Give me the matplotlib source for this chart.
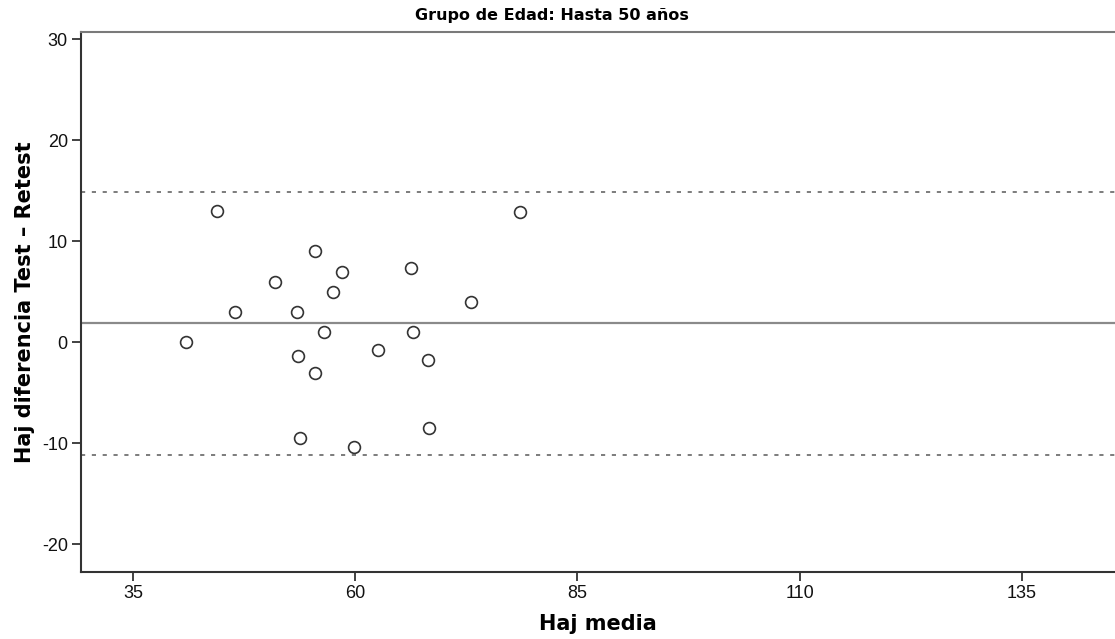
import matplotlib
matplotlib.use("Agg")
import matplotlib.pyplot as plt

plt.rcParams["axes.unicode_minus"] = False

# Data
media = [41.0, 44.5, 46.5, 51.0, 53.5, 53.6, 53.75, 55.5, 55.5, 56.5,
         57.5, 58.5, 59.9, 62.6, 66.3, 66.5, 68.15, 68.3, 73.0, 78.5]
diferencia = [0.0, 13.0, 3.0, 6.0, 3.0, -1.3, -9.5, 9.0, -3.0, 1.0,
              5.0, 7.0, -10.4, -0.8, 7.4, 1.0, -1.7, -8.5, 4.0, 12.9]
mean_diff = 1.88
upper_loa = 14.85
lower_loa = -11.16
xticks = [35, 60, 85, 110, 135]
yticks = [-20, -10, 0, 10, 20, 30]

fig = plt.figure(figsize=(11.15, 6.39), dpi=100)
ax = fig.add_axes([81/1115, 1 - 571.7/639, 1 - 81/1115, (571.7 - 32.3)/639])

ax.axhline(mean_diff, color="#8a8a8a", lw=1.6, zorder=1)
ax.axhline(upper_loa, color="#666666", lw=1.2, ls=(0, (2.5, 4)), zorder=1)
ax.axhline(lower_loa, color="#666666", lw=1.2, ls=(0, (2.5, 4)), zorder=1)

ax.plot(media, diferencia, ls="none", marker="o", ms=8.5, mfc="white",
        mec="#333333", mew=1.2, zorder=3)

ax.set_xlim(29.15, 145.5)
ax.set_ylim(-22.7, 30.7)
ax.set_xticks(xticks)
ax.set_yticks(yticks)

for s in ["left", "bottom"]:
    ax.spines[s].set_color("#333333")
    ax.spines[s].set_linewidth(1.5)
ax.spines["top"].set_color("#7a7a7a")
ax.spines["top"].set_linewidth(1.5)
ax.spines["right"].set_visible(False)

ax.tick_params(axis="both", direction="out", length=6.5, width=1.3,
               color="#333333", labelsize=13, labelcolor="#111111", pad=3)
for lab in ax.get_xticklabels() + ax.get_yticklabels():
    lab.set_family("Liberation Sans")

ax.set_xlabel("Haj media", fontsize=15, fontweight="bold", family="DejaVu Sans", labelpad=9)
ax.set_ylabel("Haj diferencia Test \u2013 Retest", fontsize=15, fontweight="bold",
              family="DejaVu Sans", labelpad=5)
fig.text(0.495, 0.975, "Grupo de Edad: Hasta 50 años", ha="center", va="center",
         fontsize=11.5, fontweight="bold", family="DejaVu Sans")

fig.savefig("out.png", dpi=100, facecolor="white")
